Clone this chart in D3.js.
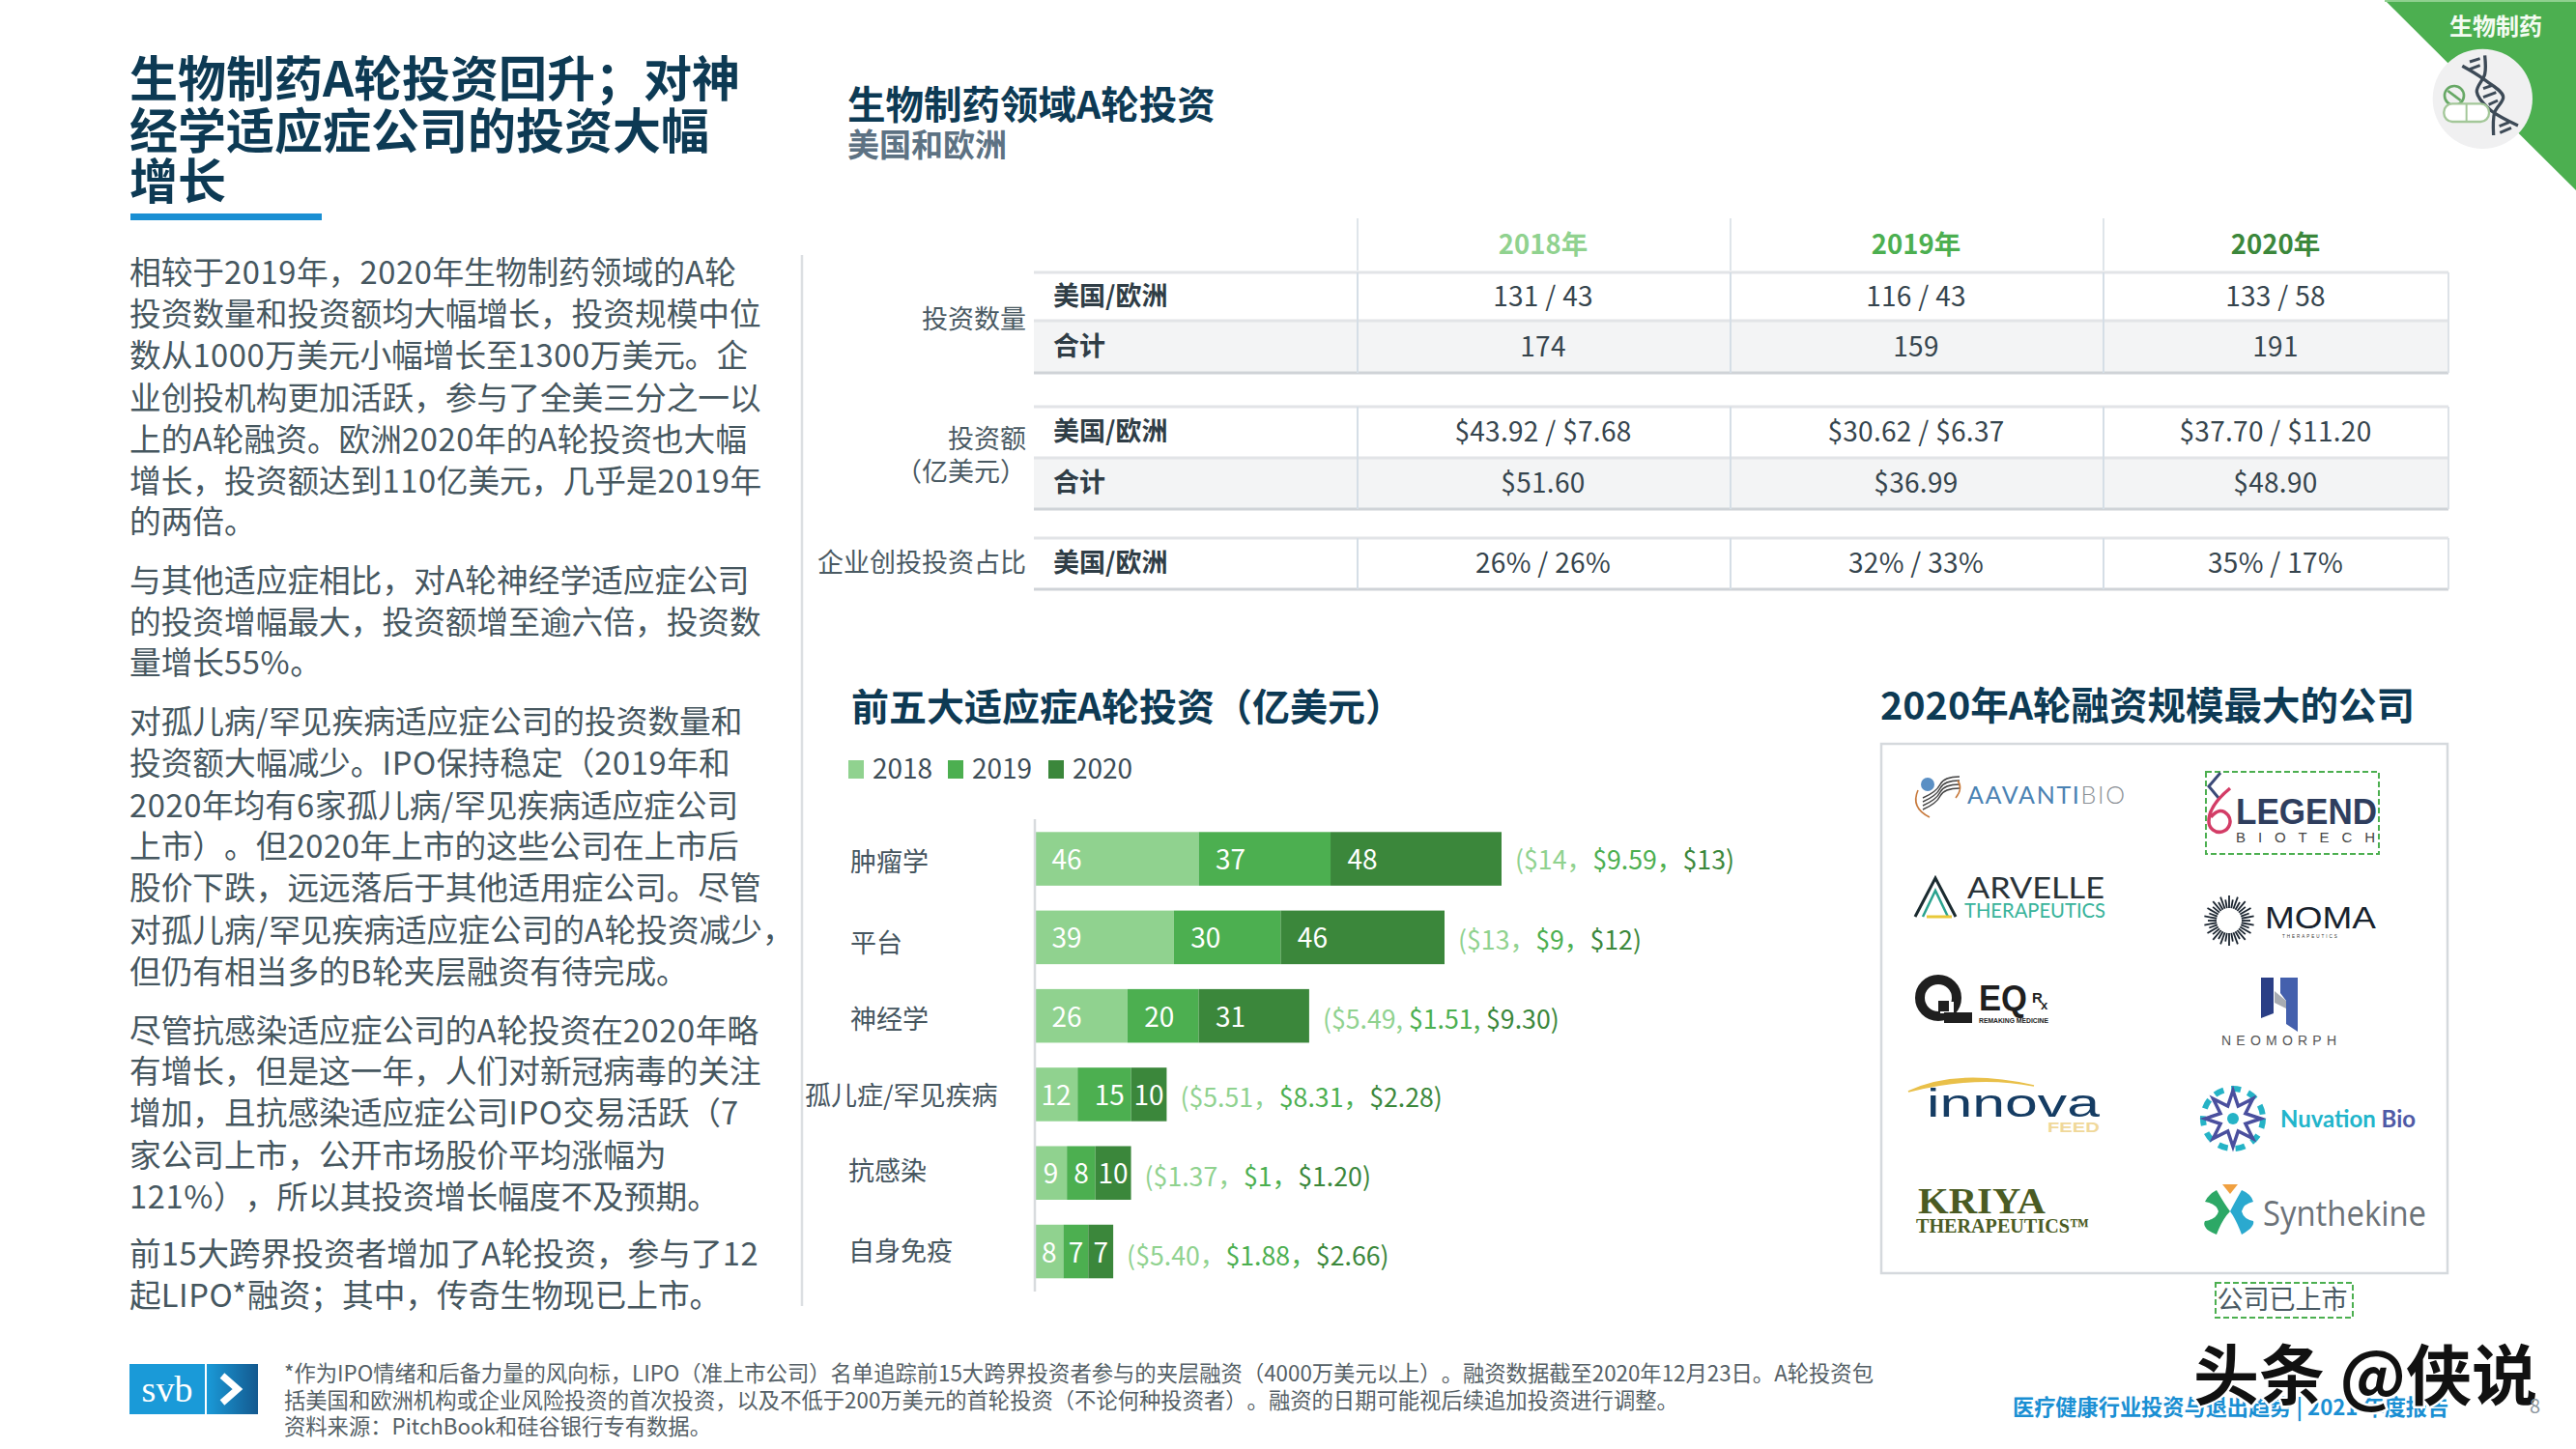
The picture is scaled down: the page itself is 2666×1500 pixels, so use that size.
<!DOCTYPE html>
<html lang="zh"><head><meta charset="utf-8">
<script src="https://cdn.jsdelivr.net/npm/d3@7"></script>
<style>
html,body{margin:0;padding:0;background:#fff}
svg{display:block}
text{font-family:"Noto Sans CJK SC","Noto Sans",sans-serif;text-spacing-trim:space-all;font-feature-settings:"palt" 0,"chws" 0}
</style></head><body>
<svg id="c" width="2666" height="1500" viewBox="0 0 2666 1500"></svg>
<script>
// ---- data ----
const titleLines = ["生物制药A轮投资回升；对神","经学适应症公司的投资大幅","增长"];
const bodyLines = [
 ["相较于2019年，2020年生物制药领域的A轮",281],["投资数量和投资额均大幅增长，投资规模中位",324],["数从1000万美元小幅增长至1300万美元。企",367],
 ["业创投机构更加活跃，参与了全美三分之一以",411],["上的A轮融资。欧洲2020年的A轮投资也大幅",454],["增长，投资额达到110亿美元，几乎是2019年",497],["的两倍。",539],
 ["与其他适应症相比，对A轮神经学适应症公司",600],["的投资增幅最大，投资额增至逾六倍，投资数",643],["量增长55%。",685],
 ["对孤儿病/罕见疾病适应症公司的投资数量和",746],["投资额大幅减少。IPO保持稳定（2019年和",789],["2020年均有6家孤儿病/罕见疾病适应症公司",833],["上市）。但2020年上市的这些公司在上市后",875],["股价下跌，远远落后于其他适用症公司。尽管",918],["对孤儿病/罕见疾病适应症公司的A轮投资减少，",962],["但仍有相当多的B轮夹层融资有待完成。",1005],
 ["尽管抗感染适应症公司的A轮投资在2020年略",1066],["有增长，但是这一年，人们对新冠病毒的关注",1108],["增加，且抗感染适应症公司IPO交易活跃（7",1151],["家公司上市，公开市场股价平均涨幅为",1195],["121%），所以其投资增长幅度不及预期。",1238],
 ["前15大跨界投资者增加了A轮投资，参与了12",1297],["起LIPO*融资；其中，传奇生物现已上市。",1340]];
const years = ["2018","2019","2020"];
const yearHeads = ["2018年","2019年","2020年"];
const rowNames = ["美国/欧洲","合计","美国/欧洲","合计","美国/欧洲"];
const tableRows = [
 ["131 / 43","116 / 43","133 / 58"],
 ["174","159","191"],
 ["$43.92 / $7.68","$30.62 / $6.37","$37.70 / $11.20"],
 ["$51.60","$36.99","$48.90"],
 ["26% / 26%","32% / 33%","35% / 17%"]];
const categories = ["肿瘤学","平台","神经学","孤儿症/罕见疾病","抗感染","自身免疫"];
const deals2018 = [46,39,26,12,9,8];
const deals2019 = [37,30,20,15,8,7];
const deals2020 = [48,46,31,10,10,7];
const amount2018 = ["($14，","($13，","($5.49, ","($5.51，","($1.37，","($5.40，"];
const amount2019 = ["$9.59，","$9，","$1.51, ","$8.31，","$1，","$1.88，"];
const amount2020 = ["$13)","$12)","$9.30)","$2.28)","$1.20)","$2.66)"];
const footLines = [
 "*作为IPO情绪和后备力量的风向标，LIPO（准上市公司）名单追踪前15大跨界投资者参与的夹层融资（4000万美元以上）。融资数据截至2020年12月23日。A轮投资包",
 "括美国和欧洲机构或企业风险投资的首次投资，以及不低于200万美元的首轮投资（不论何种投资者）。融资的日期可能视后续追加投资进行调整。",
 "资料来源：PitchBook和硅谷银行专有数据。"];

// ---- palette ----
const C18="#90d28f",C19="#4caf50",C20="#3b873b",NAVY="#0d3a54",BODY="#46575f";
const svg=d3.select("#c");
const txt=(g,s,x,y,size,fill,o={})=>{
  const central=(o.b||"central")==="central";
  const t=g.append("text").text(s).attr("x",x).attr("y",y-(central?2.5:0)).attr("font-size",size).attr("fill",fill)
    .attr("font-weight",o.w||400).attr("text-anchor",o.a||"start").attr("dominant-baseline",o.b||"central");
  if(o.ls!==undefined)t.attr("letter-spacing",o.ls);
  if(o.ff)t.style("font-family",o.ff);
  if(o.tl)t.attr("textLength",o.tl).attr("lengthAdjust","spacingAndGlyphs");
  return t;
};

// ---- left column ----
titleLines.forEach((s,i)=>txt(svg,s,134,[80,134,186][i],50,NAVY,{w:700}));
svg.append("rect").attr("x",135).attr("y",221).attr("width",198).attr("height",7).attr("fill","#1a8fd3");
bodyLines.forEach(([s,y])=>{
  const t=txt(svg,"",134,y,32.7,BODY);
  s.split(/([0-9A-Za-z%*\/]+)/).filter(Boolean).forEach(r=>{
    const sp=t.append("tspan").text(r);
    if(/^[0-9A-Za-z%*\/]+$/.test(r))sp.attr("letter-spacing",0.6);
  });
});
svg.append("line").attr("x1",830).attr("x2",830).attr("y1",264).attr("y2",1352).attr("stroke","#dcdfe2").attr("stroke-width",2.5);

// ---- corner ribbon ----
svg.append("polygon").attr("points","2468,0 2666,0 2666,197").attr("fill",C19);
svg.append("rect").attr("x",2468).attr("y",0).attr("width",198).attr("height",2).attr("fill","#8fd08f");
txt(svg,"生物制药",2583,28,24,"#f4fbf2",{a:"middle",w:700});
const ic=svg.append("g").attr("transform","translate(2400,0) scale(0.3333)");
ic.append("circle").attr("cx",508).attr("cy",307).attr("r",155).attr("fill","#f0f0f1");
const ln=d3.line().curve(d3.curveCatmullRom);
[[[445,205],[510,245],[572,300],[545,350],[542,420]],[[515,172],[515,230],[490,285],[530,340],[618,390]]].forEach(p=>
  ic.append("path").attr("d",ln(p)).attr("fill","none").attr("stroke","#3d4a57").attr("stroke-width",10));
[[468,192,500,182],[468,215,500,203],[510,275,538,265],[510,302,550,287],[527,325,555,312],[560,392,590,380],[562,412,597,397]].forEach(r=>
  ic.append("line").attr("x1",r[0]).attr("y1",r[1]).attr("x2",r[2]).attr("y2",r[3]).attr("stroke","#3d4a57").attr("stroke-width",9));
ic.append("circle").attr("cx",420).attr("cy",297).attr("r",30).attr("fill","#f0f0f1").attr("stroke","#67a866").attr("stroke-width",8);
ic.append("line").attr("x1",400).attr("y1",282).attr("x2",440).attr("y2",312).attr("stroke","#67a866").attr("stroke-width",8);
ic.append("rect").attr("x",388).attr("y",322).attr("width",140).attr("height",56).attr("rx",26).attr("fill","#fff").attr("stroke","#a3c799").attr("stroke-width",7);
ic.append("line").attr("x1",458).attr("x2",458).attr("y1",322).attr("y2",378).attr("stroke","#a3c799").attr("stroke-width",6);

// ---- table ----
txt(svg,"生物制药领域A轮投资",877,108,39.5,NAVY,{w:700});
txt(svg,"美国和欧洲",877,150,33,"#5d7283",{w:700});
const colX=d3.scaleOrdinal().domain(years).range([1597,1983,2355]);
const blocks=[[282,332,386],[421,474,527],[557,610]];
const T=svg.append("g");
const left=1070,right=2534,vs=[1405,1791,2177];
T.append("rect").attr("x",left).attr("y",332).attr("width",right-left).attr("height",54).attr("fill","#f3f4f5");
T.append("rect").attr("x",left).attr("y",474).attr("width",right-left).attr("height",53).attr("fill","#f3f4f5");
blocks.forEach(b=>{
  b.forEach((y,i)=>T.append("line").attr("x1",left).attr("x2",right).attr("y1",y).attr("y2",y)
     .attr("stroke",i===b.length-1?"#cfd3d7":"#e2e4e7").attr("stroke-width",3));
  T.append("line").attr("x1",right).attr("x2",right).attr("y1",b[0]).attr("y2",b[b.length-1]).attr("stroke","#dde2e7").attr("stroke-width",2);
  vs.forEach(x=>T.append("line").attr("x1",x).attr("x2",x).attr("y1",b[0]).attr("y2",b[b.length-1]).attr("stroke","#d5dee6").attr("stroke-width",2));
});
vs.forEach(x=>T.append("line").attr("x1",x).attr("x2",x).attr("y1",226).attr("y2",280).attr("stroke","#dfe5ea").attr("stroke-width",2));
yearHeads.forEach((s,i)=>txt(T,s,colX(years[i]),253,27.5,[C18,C19,C20][i],{a:"middle",w:700}));
const rowY=[307,359,447,500,583];
tableRows.forEach((r,ri)=>{
  txt(T,rowNames[ri],1090,rowY[ri],27,"#2f3d46",{w:700});
  r.forEach((s,ci)=>txt(T,s,colX(years[ci]),rowY[ri],28,"#35444d",{a:"middle",ls:0.3}));
});
txt(T,"投资数量",1062,331,27,"#4a5a63",{a:"end"});
txt(T,"投资额",1062,455,27,"#4a5a63",{a:"end"});
txt(T,"（亿美元）",1062,489,27,"#4a5a63",{a:"end"});
txt(T,"企业创投投资占比",1062,583,27,"#4a5a63",{a:"end"});

// ---- stacked bars ----
txt(svg,"前五大适应症A轮投资（亿美元）",881,731,39,NAVY,{w:700});
const legX=[878,981,1085];
years.forEach((y,i)=>{
  svg.append("rect").attr("x",legX[i]).attr("y",787).attr("width",16).attr("height",19).attr("fill",[C18,C19,C20][i]);
  txt(svg,y,legX[i]+25,796,28,"#3c4c56");
});
const x=d3.scaleLinear().domain([0,131]).range([1071,1554]);
const yB=d3.scaleBand().domain(categories).range([861.3,1323.3]).paddingInner(0.317).paddingOuter(0);
const stackInput=categories.map((c,i)=>({cat:c,a:deals2018[i],b:deals2019[i],c:deals2020[i]}));
const stack=d3.stack().keys(["a","b","c"])(stackInput);
const segColor=d3.scaleOrdinal().domain(["a","b","c"]).range([C18,C19,C20]);
const bars=svg.append("g");
stack.forEach(s=>{
  s.forEach(d=>{
    const x0=x(d[0]),x1=x(d[1]),v=d[1]-d[0],w=x1-x0;
    bars.append("rect").attr("x",x0).attr("y",yB(d.data.cat)).attr("width",w).attr("height",yB.bandwidth()).attr("fill",segColor(s.key));
    txt(bars,String(v),x0+(v>=15?33:w/2),yB(d.data.cat)+yB.bandwidth()/2+1.5,28,"#fff",{a:"middle"});
  });
});
const axis=svg.append("g").attr("transform","translate(1071,0)")
  .call(d3.axisLeft(yB).tickSize(0).tickPadding(0));
axis.select(".domain").attr("d","M0,848V1337").attr("stroke","#d8dbde").attr("stroke-width",2.5);
const labelX=[880,880,880,833,878,878],labelDy=[1,4,2,0,-4,-2];
axis.selectAll(".tick text").attr("font-size",27).attr("fill","#46565f")
  .style("font-family",'"Noto Sans CJK SC"').attr("text-anchor","start")
  .attr("x",(d,i)=>labelX[i]-1071).attr("dominant-baseline","central").attr("y",0)
  .attr("dy",(d,i)=>labelDy[i]);
const noteDy=[0,2,2,2,3,3];
categories.forEach((c,i)=>{
  const end=x(deals2018[i]+deals2019[i]+deals2020[i])+14;
  const t=svg.append("text").attr("x",end).attr("y",yB(c)+yB.bandwidth()/2-1+noteDy[i]).attr("font-size",26.7).attr("dominant-baseline","central");
  t.append("tspan").attr("fill",C18).text(amount2018[i]);
  t.append("tspan").attr("fill",C19).text(amount2019[i]);
  t.append("tspan").attr("fill",C20).text(amount2020[i]);
});

// ---- company panel ----
txt(svg,"2020年A轮融资规模最大的公司",1946,730,39.5,NAVY,{w:700});
svg.append("rect").attr("x",1947).attr("y",770).attr("width",586).attr("height",548).attr("fill","#fff").attr("stroke","#d5d9dd").attr("stroke-width",2.5);
const dash=(X,Y,W,H)=>svg.append("rect").attr("x",X).attr("y",Y).attr("width",W).attr("height",H).attr("fill","none").attr("stroke","#4caf50").attr("stroke-width",2).attr("stroke-dasharray","6 3");
dash(2283,799,179,85); dash(2293,1328,142,36);
txt(svg,"公司已上市",2362,1346,27,"#4a5a63",{a:"middle"});
const L=svg.append("g");
const sans='"Liberation Sans",sans-serif',lato='Lato,sans-serif',serif='"Liberation Serif",serif';
// Aavanti
L.append("circle").attr("cx",1995).attr("cy",812).attr("r",7).attr("fill","#5a8fc4");
[0,1,2,3].forEach(i=>L.append("path").attr("d",`M${1990} ${838+i*-4}q14 -6 18 -14t20 -8`).attr("fill","none").attr("stroke","#444").attr("stroke-width",1.5));
L.append("path").attr("d","M1985 818q-8 18 12 28M2026 808q6 8 -2 18").attr("fill","none").attr("stroke","#c87a3d").attr("stroke-width",1.6);
const av=L.append("text").attr("x",2036).attr("y",832).attr("font-size",25).style("font-family",lato).attr("textLength",163).attr("lengthAdjust","spacing");
av.append("tspan").attr("fill","#4a82b3").text("AAVANTI");
av.append("tspan").attr("fill","#8a8f95").attr("font-weight",300).text("BIO");
// Legend
txt(L,"LEGEND",2314,853,37,"#2f3e5e",{w:700,b:"auto",ff:sans,tl:146});
txt(L,"BIOTECH",2314,872,15,"#444",{b:"auto",ff:sans,tl:144}).attr("lengthAdjust","spacing");
L.append("path").attr("d","M2298 800l-12 14 10 12").attr("fill","none").attr("stroke","#3b4a78").attr("stroke-width",3);
L.append("path").attr("d","M2308 816q-22 18 -22 34a11 11 0 1 0 20 -6q-8 -10 -18 2").attr("fill","none").attr("stroke","#d33c66").attr("stroke-width",3.5);
// Arvelle
L.append("path").attr("d","M1982 949L2003 909L2024 949").attr("fill","none").attr("stroke","#1b2b30").attr("stroke-width",3);
L.append("path").attr("d","M1990 949L2003 922L2016 949").attr("fill","none").attr("stroke","#2aa38f").attr("stroke-width",2.5);
L.append("line").attr("x1",1994).attr("x2",2020).attr("y1",949).attr("y2",949).attr("stroke","#e8c93a").attr("stroke-width",3);
txt(L,"ARVELLE",2036,930,31,"#2a3338",{b:"auto",ff:lato,tl:142});
txt(L,"THERAPEUTICS",2033,950,21,"#38b39a",{b:"auto",ff:lato,tl:146});
// Moma
d3.range(36).forEach(i=>{const a=i*Math.PI/18,r0=13,r1=i%2?26:22;
  L.append("line").attr("x1",2307+r0*Math.cos(a)).attr("y1",953+r0*Math.sin(a)).attr("x2",2307+r1*Math.cos(a)).attr("y2",953+r1*Math.sin(a)).attr("stroke","#1b2530").attr("stroke-width",1.8);});
txt(L,"MOMA",2344,961,31,"#18222d",{b:"auto",ff:sans,tl:115});
txt(L,"THERAPEUTICS",2362,971,4.5,"#333",{b:"auto",ls:2,ff:sans});
// EQRx
L.append("circle").attr("cx",2006).attr("cy",1033).attr("r",19).attr("fill","none").attr("stroke","#1f1f1f").attr("stroke-width",10);
L.append("rect").attr("x",2008).attr("y",1037).attr("width",14).attr("height",12).attr("fill","#fff");
L.append("rect").attr("x",2012).attr("y",1048).attr("width",29).attr("height",11).attr("fill","#1f1f1f");
L.append("rect").attr("x",2006).attr("y",1036).attr("width",11).attr("height",11).attr("fill","#1f1f1f");
txt(L,"EQ",2048,1046,36,"#1f1f1f",{b:"auto",w:700,ff:sans,tl:50});
txt(L,"R",2103,1038,15,"#1f1f1f",{b:"auto",w:700,ff:sans});
txt(L,"x",2112,1045,13,"#1f1f1f",{b:"auto",w:700,ff:sans});
txt(L,"REMAKING MEDICINE",2048,1059,7.2,"#222",{b:"auto",w:700,ff:sans,tl:72});
// Neomorph
L.append("polygon").attr("points","2340,1012 2353,1012 2353,1049 2340,1054").attr("fill","#2b3f86");
L.append("polygon").attr("points","2360,1012 2378,1012 2378,1068 2366,1060 2366,1036 2360,1028").attr("fill","#4460ad");
L.append("polygon").attr("points","2354,1026 2366,1036 2366,1044 2354,1038").attr("fill","#a8acb2");
txt(L,"NEOMORPH",2299,1082,14,"#555",{b:"auto",ff:sans,tl:119}).attr("lengthAdjust","spacing");
// Innova
L.append("path").attr("d","M1975 1130q50 -24 130 -6q-60 -12 -130 6z").attr("fill","#e9c04a").attr("stroke","#e9c04a").attr("stroke-width",1.5);
txt(L,"innova",1994,1156,40,"#153c63",{b:"auto",ff:sans,tl:179});
txt(L,"FEED",2119,1172,15,"#f0d89a",{b:"auto",ff:sans,w:700,tl:54});
// Nuvation
L.append("circle").attr("cx",2311).attr("cy",1158).attr("r",31).attr("fill","none").attr("stroke","#25b3c6").attr("stroke-width",6).attr("stroke-dasharray","10 8");
const star=d3.range(16).map(i=>{const a=i*Math.PI/8,r=i%2?14:29;return [2311+r*Math.cos(a),1158+r*Math.sin(a)]});
L.append("polygon").attr("points",star.map(p=>p.join(",")).join(" ")).attr("fill","#fff").attr("stroke","#4a4f9e").attr("stroke-width",3.5);
L.append("circle").attr("cx",2311).attr("cy",1158).attr("r",6).attr("fill","#25b3c6");
const nv=L.append("text").attr("x",2360).attr("y",1167).attr("font-size",25).attr("font-weight",700).style("font-family",lato).attr("textLength",140).attr("lengthAdjust","spacingAndGlyphs");
nv.append("tspan").attr("fill","#22b5cb").text("Nuvation ");nv.append("tspan").attr("fill","#4f5aa6").text("Bio");
// Kriya
txt(L,"KRIYA",1985,1256,38,"#4a5b23",{b:"auto",w:700,ff:serif,tl:132});
txt(L,"THERAPEUTICS™",1983,1276,21,"#4a5b23",{b:"auto",w:700,ff:serif,tl:179});
// Synthekine
L.append("path").attr("d","M2294 1232q8 14 14 22q-8 8 -14 24q-16 -6 -12 -14q12 -2 14 -10q-2 -8 -14 -10q4 -8 12 -12z").attr("fill","#2da866");
L.append("path").attr("d","M2320 1232q-8 14 -12 22q6 8 12 24q14 -8 12 -14q-10 -2 -12 -10q2 -8 12 -10q-2 -8 -12 -12z").attr("fill","#2aa9cf");
L.append("polygon").attr("points","2300,1226 2316,1226 2308,1236").attr("fill","#f0a040");
txt(L,"Synthekine",2342,1269,37,"#6b7278",{b:"auto",ff:'"Open Sans",sans-serif',tl:169});

// ---- footer ----
const grad=svg.append("defs").append("linearGradient").attr("id","g");
grad.append("stop").attr("offset","0").attr("stop-color","#1a9ad8");
grad.append("stop").attr("offset","1").attr("stop-color","#14598f");
svg.append("rect").attr("x",134).attr("y",1412).attr("width",78).attr("height",52).attr("fill","#1a9ad8");
svg.append("rect").attr("x",214).attr("y",1412).attr("width",53).attr("height",52).attr("fill","url(#g)");
txt(svg,"svb",173,1440,38,"#fff",{a:"middle",w:400,ff:'"Liberation Serif",serif'});
svg.append("path").attr("d","M230 1424L246 1438L230 1452").attr("fill","none").attr("stroke","#fff").attr("stroke-width",7);
footLines.forEach((s,i)=>txt(svg,s,294,[1422,1450,1477][i],22.32,"#555f66"));
txt(svg,"医疗健康行业投资与退出趋势 | 2021 年度报告",2083,1457,22.2,"#1a8fd3",{w:700});
txt(svg,"头条 @侠说",2270,1422,68,"#111",{w:700}).attr("stroke","#fff").attr("stroke-width",5).attr("paint-order","stroke");
txt(svg,"8",2618,1457,20,"#8c979e");
</script>
</body></html>
